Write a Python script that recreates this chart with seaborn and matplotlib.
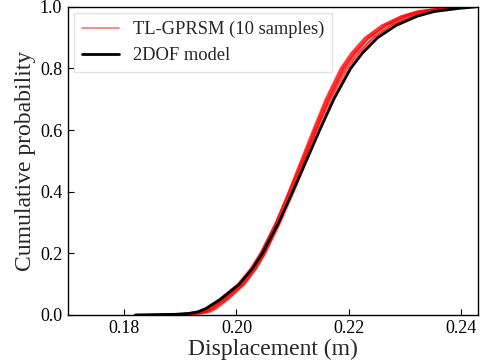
import matplotlib
matplotlib.use("Agg")
import matplotlib.pyplot as plt
import seaborn as sns
import pandas as pd

# Cumulative probability levels shared by all curves
prob = [0.0, 0.002, 0.005, 0.01, 0.02, 0.05, 0.10, 0.15, 0.20, 0.30, 0.40, 0.50,
        0.60, 0.70, 0.80, 0.85, 0.90, 0.94, 0.97, 0.985, 0.995, 1.0]

# 2DOF model displacement quantiles (m)
model_x = [0.1820, 0.1891, 0.1915, 0.1931, 0.1945, 0.1971, 0.2005, 0.2028, 0.2046, 0.2075, 0.2100,
           0.2124, 0.2148, 0.2173, 0.2203, 0.2224, 0.2251, 0.2284, 0.2322, 0.2352, 0.2395, 0.2425]

# TL-GPRSM samples displacement quantiles (m)
s1 = [0.1850, 0.19090, 0.19306, 0.19446, 0.19564, 0.19792, 0.20103, 0.20313, 0.20477, 0.20742, 0.20970,
      0.21190, 0.21410, 0.21638, 0.21913, 0.22107, 0.22357, 0.22666, 0.23020, 0.23296, 0.23694, 0.2395]
s2 = [0.1845, 0.19003, 0.19225, 0.19370, 0.19493, 0.19729, 0.20047, 0.20262, 0.20431, 0.20701, 0.20935,
      0.21160, 0.21385, 0.21619, 0.21899, 0.22098, 0.22353, 0.22667, 0.23027, 0.23310, 0.23715, 0.2400]
s3 = [0.1860, 0.19139, 0.19352, 0.19489, 0.19605, 0.19828, 0.20135, 0.20343, 0.20506, 0.20767, 0.20993,
      0.21210, 0.21427, 0.21653, 0.21924, 0.22117, 0.22365, 0.22670, 0.23021, 0.23295, 0.23688, 0.2390]
s4 = [0.1855, 0.19098, 0.19308, 0.19443, 0.19555, 0.19775, 0.20078, 0.20284, 0.20444, 0.20702, 0.20925,
      0.21140, 0.21355, 0.21578, 0.21846, 0.22036, 0.22282, 0.22584, 0.22932, 0.23203, 0.23592, 0.2380]
s5 = [0.1835, 0.19034, 0.19259, 0.19406, 0.19533, 0.19772, 0.20094, 0.20312, 0.20482, 0.20756, 0.20993,
      0.21220, 0.21447, 0.21684, 0.21968, 0.22168, 0.22426, 0.22742, 0.23106, 0.23391, 0.23801, 0.2410]
s6 = [0.1870, 0.19185, 0.19389, 0.19519, 0.19626, 0.19837, 0.20134, 0.20334, 0.20491, 0.20743, 0.20960,
      0.21170, 0.21380, 0.21597, 0.21859, 0.22046, 0.22286, 0.22583, 0.22924, 0.23190, 0.23571, 0.2378]
s7 = [0.1840, 0.19064, 0.19289, 0.19436, 0.19563, 0.19802, 0.20124, 0.20342, 0.20512, 0.20786, 0.21023,
      0.21250, 0.21477, 0.21714, 0.21998, 0.22198, 0.22456, 0.22772, 0.23136, 0.23421, 0.23831, 0.2412]
s8 = [0.1825, 0.18908, 0.19142, 0.19297, 0.19431, 0.19683, 0.20016, 0.20241, 0.20417, 0.20700, 0.20945,
      0.21180, 0.21415, 0.21660, 0.21953, 0.22159, 0.22424, 0.22749, 0.23122, 0.23417, 0.23838, 0.2415]
s9 = [0.1865, 0.19187, 0.19393, 0.19526, 0.19636, 0.19851, 0.20151, 0.20354, 0.20513, 0.20768, 0.20988,
      0.21200, 0.21412, 0.21632, 0.21897, 0.22086, 0.22329, 0.22629, 0.22973, 0.23241, 0.23627, 0.2385]
s10 = [0.1850, 0.19050, 0.19266, 0.19406, 0.19524, 0.19752, 0.20063, 0.20273, 0.20437, 0.20702, 0.20930,
       0.21150, 0.21370, 0.21598, 0.21873, 0.22067, 0.22317, 0.22626, 0.22980, 0.23256, 0.23654, 0.2388]
samples = [s1, s2, s3, s4, s5, s6, s7, s8, s9, s10]

xticks = [0.18, 0.20, 0.22, 0.24]
yticks = [0.0, 0.2, 0.4, 0.6, 0.8, 1.0]

sns.set_style("white")
plt.rcParams['font.family'] = ['Liberation Serif', 'DejaVu Serif']
plt.rcParams['mathtext.fontset'] = 'stix'

fig = plt.figure(figsize=(4.88, 3.62), dpi=100)
ax = fig.add_axes([0.139, 0.130, 0.841, 0.851])

for i, s in enumerate(samples):
    df = pd.DataFrame({"x": s, "p": prob})
    sns.lineplot(data=df, x="x", y="p", ax=ax, color="red", alpha=0.5, lw=1.3,
                 estimator=None, sort=False,
                 label="TL-GPRSM (10 samples)" if i == 0 else None)

dfm = pd.DataFrame({"x": model_x, "p": prob})
sns.lineplot(data=dfm, x="x", y="p", ax=ax, color="black", lw=2.0,
             estimator=None, sort=False, label="2DOF model")

ax.set_xlim(0.17, 0.243)
ax.set_ylim(0.0, 1.0)
ax.set_xticks(xticks)
ax.set_xticklabels([f"{t:.2f}" for t in xticks])
ax.set_yticks(yticks)
ax.set_yticklabels([f"{t:.1f}" for t in yticks])
ax.tick_params(bottom=True, left=True, direction="in", length=4, width=0.8,
               labelsize=13, colors="black", pad=4)
ax.set_xlabel("Displacement (m)", fontsize=17, labelpad=1)
ax.set_ylabel("Cumulative probability", fontsize=17, labelpad=3)
for sp in ax.spines.values():
    sp.set_color("black")
    sp.set_linewidth(1.0)

leg = ax.legend(loc="upper left", fontsize=13.3, frameon=True, fancybox=False,
                borderaxespad=0.35, handlelength=2.0)
leg.get_frame().set_edgecolor("#dddddd")

fig.savefig("out.png", dpi=100)
